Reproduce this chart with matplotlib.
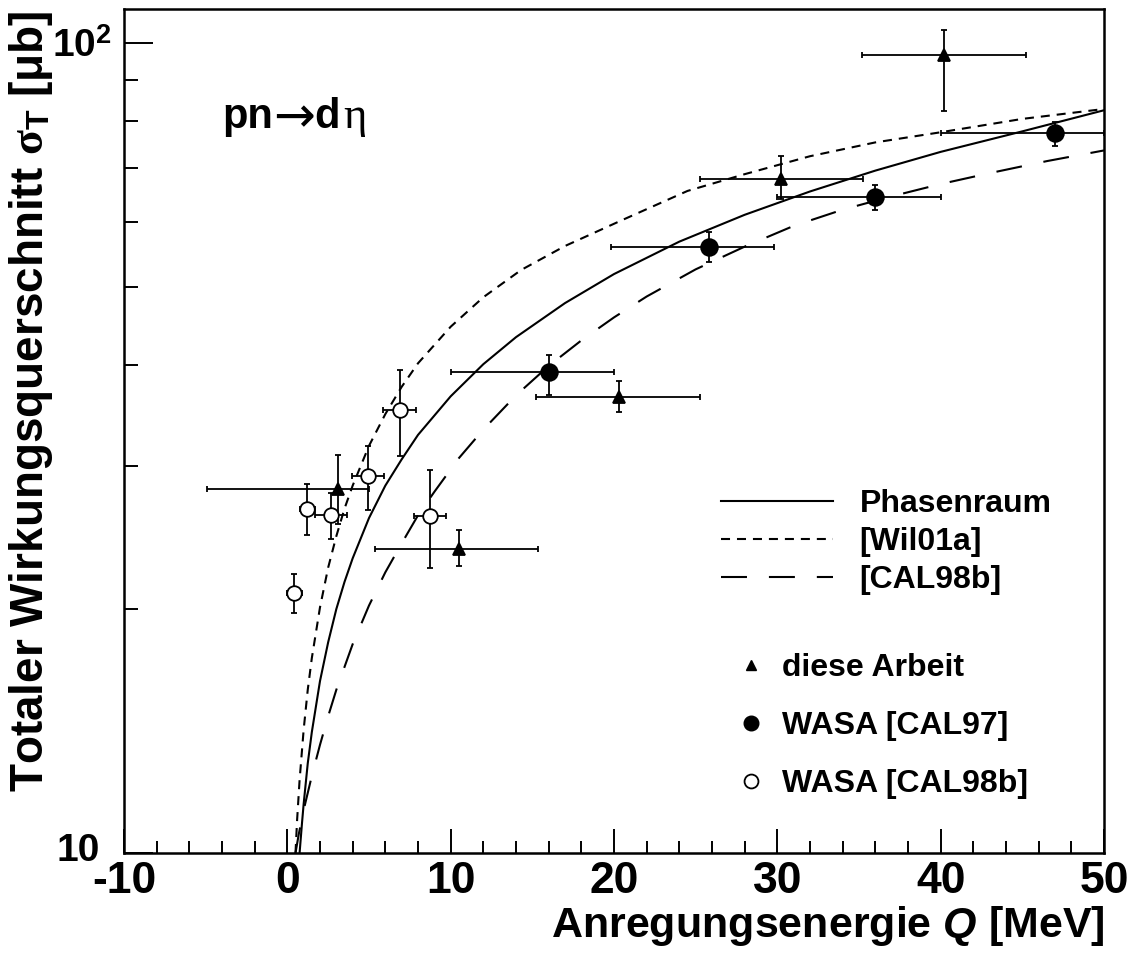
import numpy as np
import matplotlib
matplotlib.use("Agg")
import matplotlib.pyplot as plt
from matplotlib.lines import Line2D
from matplotlib.transforms import ScaledTranslation
from matplotlib.ticker import FixedLocator, FixedFormatter, NullFormatter

plt.rcParams.update({
    "font.family": ["Liberation Sans", "DejaVu Sans"],
    "font.weight": "bold",
    "mathtext.fontset": "custom",
    "mathtext.rm": "Liberation Sans:bold",
    "mathtext.bf": "Liberation Sans:bold",
    "mathtext.it": "Liberation Serif",
    "mathtext.sf": "Liberation Sans:bold:italic",
    "lines.scale_dashes": False,
    "axes.unicode_minus": False,
})

# ---- model curves: excitation energy Q [MeV] vs. total cross section [ub] ----
# phase space
ps_q = [0.75, 0.9, 1.0, 1.25, 1.5, 2.0, 2.5, 3.0, 3.5, 4.0, 5.0, 6.0, 7.0, 8.0,
        10.0, 12.0, 14.0, 17.0, 20.0, 24.0, 28.0, 32.0, 36.0, 40.0, 45.0, 50.0]
ps_sig = [10.0, 10.9, 11.5, 12.9, 14.1, 16.3, 18.2, 20.0, 21.6, 23.1, 25.9, 28.4,
          30.6, 32.8, 36.6, 40.1, 43.3, 47.7, 51.8, 56.8, 61.3, 65.5, 69.5, 73.3,
          77.7, 82.5]

# [Wil01a]
wil_q = [0.5, 0.6, 0.75, 1.0, 1.25, 1.5, 2.0, 2.5, 3.0, 3.5, 4.0, 5.0, 6.0, 7.0,
         8.0, 10.0, 12.0, 14.31, 17.0, 20.43, 24.5, 28.0, 32.0, 36.0, 40.0, 45.0, 50.0]
wil_sig = [10.0, 11.0, 12.3, 14.2, 15.9, 17.4, 20.1, 22.5, 24.6, 26.6, 28.4, 31.8,
           34.8, 37.6, 40.2, 44.6, 48.5, 52.4, 56.1, 60.3, 65.6, 68.8, 72.4, 75.3,
           77.5, 80.5, 82.8]

# [CAL98b]
cal_q = [0.5, 0.7, 1.0, 1.5, 2.0, 2.5, 3.0, 4.0, 5.0, 6.0, 7.0, 8.0, 9.0, 10.5,
         12.0, 14.0, 16.0, 18.0, 20.0, 22.0, 25.0, 28.0, 31.0, 34.0, 37.0, 40.0,
         43.0, 46.5, 50.0]
cal_sig = [10.0, 10.55, 11.3, 12.45, 13.6, 14.75, 15.9, 18.1, 20.2, 22.2, 24.1,
           26.1, 27.9, 30.7, 33.3, 36.7, 39.9, 42.9, 45.8, 48.6, 52.5, 56.0, 59.4,
           62.2, 64.6, 66.9, 69.0, 71.4, 73.6]

# ---- measurements ----
# diese Arbeit
arb_q = [3.1, 10.5, 20.3, 30.25, 40.2]
arb_q_lo = [8.0, 5.15, 5.05, 5.0, 5.0]
arb_q_hi = [1.9, 4.85, 4.95, 5.0, 5.0]
arb_sig = [28.1, 23.75, 36.5, 67.9, 96.4]
arb_sig_max = [31.0, 25.0, 38.2, 72.4, 103.5]
arb_sig_min = [25.5, 22.6, 35.0, 64.2, 82.3]

# WASA [CAL97]
c97_q = [16.0, 25.8, 36.0, 47.0]
c97_q_lo = [6.0, 6.0, 6.0, 7.0]
c97_q_hi = [4.0, 4.0, 4.0, 3.0]
c97_sig = [39.2, 55.9, 64.4, 77.4]
c97_sig_max = [41.2, 58.4, 66.8, 79.8]
c97_sig_min = [36.7, 53.6, 62.1, 74.6]

# WASA [CAL98b]
c98_q = [0.43, 1.22, 2.68, 4.94, 6.88, 8.74]
c98_q_err = [0.45, 0.45, 1.0, 1.0, 1.0, 1.0]
c98_sig = [20.96, 26.6, 26.1, 29.2, 35.2, 26.05]
c98_sig_max = [22.1, 28.5, 27.8, 31.8, 39.4, 29.7]
c98_sig_min = [19.8, 24.7, 24.4, 26.5, 30.9, 22.5]

x_major = [-10, 0, 10, 20, 30, 40, 50]
x_minor = list(range(-8, 50, 2))
y_major = [10, 100]
y_major_labels = ["10", r"$10^{2}$"]
y_minor = [20, 30, 40, 50, 60, 70, 80, 90]

W, H = 1141, 958
fig = plt.figure(figsize=(W / 100, H / 100), dpi=100)
ax = fig.add_axes([124 / W, 1 - 853 / H, 980 / W, 844 / H])
ax.set_yscale("log")
ax.set_xlim(-10, 50)
ax.set_ylim(10, 110)

LW = 1.5
ph_line, = ax.plot(ps_q, ps_sig, color="k", lw=LW, label="Phasenraum")
wi_line, = ax.plot(wil_q, wil_sig, color="k", lw=LW, dashes=(6.5, 5.0), label="[Wil01a]")
ca_line, = ax.plot(cal_q, cal_sig, color="k", lw=LW, dashes=(18.7, 15.8), label="[CAL98b]")


def yerr_of(sig, smin, smax):
    s = np.asarray(sig)
    return [s - np.asarray(smin), np.asarray(smax) - s]


eb = dict(ecolor="k", elinewidth=1.3, capsize=2.5, capthick=1.3, mec="k", mew=1.3)
ax.errorbar(arb_q, arb_sig, xerr=[arb_q_lo, arb_q_hi],
            yerr=yerr_of(arb_sig, arb_sig_min, arb_sig_max),
            fmt="^", ms=9, mfc="k", zorder=3, **eb)
ax.errorbar(c97_q, c97_sig, xerr=[c97_q_lo, c97_q_hi],
            yerr=yerr_of(c97_sig, c97_sig_min, c97_sig_max),
            fmt="o", ms=12, mfc="k", zorder=3, **eb)
ax.errorbar(c98_q, c98_sig, xerr=c98_q_err,
            yerr=yerr_of(c98_sig, c98_sig_min, c98_sig_max),
            fmt="o", ms=10.5, mfc="white", zorder=4, **eb)

# axes, ticks
for sp in ax.spines.values():
    sp.set_linewidth(1.8)
ax.xaxis.set_major_locator(FixedLocator(x_major))
ax.xaxis.set_minor_locator(FixedLocator(x_minor))
ax.yaxis.set_major_locator(FixedLocator(y_major))
ax.yaxis.set_major_formatter(FixedFormatter(y_major_labels))
ax.yaxis.set_minor_locator(FixedLocator(y_minor))
ax.yaxis.set_minor_formatter(NullFormatter())
ax.tick_params(axis="x", which="major", direction="in", length=17.3, width=1.4,
               top=False, labelsize=32, pad=6)
ax.tick_params(axis="x", which="minor", direction="in", length=8.6, width=1.4, top=False)
ax.tick_params(axis="y", which="major", direction="in", length=21, width=1.4,
               right=False, labelsize=28, pad=8.6)
ax.tick_params(axis="y", which="minor", direction="in", length=10, width=1.4, right=False)

# the plain "10" sits where the base of "10^2" sits, slightly above its tick
fig.canvas.draw()
shift_10 = ScaledTranslation(-12 / 100, 6 / 100, fig.dpi_scale_trans)
ylabs = ax.yaxis.get_majorticklabels()
ylabs[0].set_transform(ylabs[0].get_transform() + shift_10)

fig.text(1105 / W, 1 - 937 / H, r"Anregungsenergie $\mathsf{Q}$ [MeV]",
         ha="right", va="baseline", fontsize=31)
fig.text(43 / W, 1 - 10 / H, r"Totaler Wirkungsquerschnitt $\sigma_\mathbf{T}$ [μb]",
         ha="right", va="baseline", rotation=90, rotation_mode="anchor", fontsize=33)

# reaction label  pn -> d eta, set piece by piece on a common baseline
desc = 6.3  # descent of the bold sans at 30 pt, in points
t_pn = ax.text(0.1, 0.859, "pn", transform=ax.transAxes, fontsize=30,
               va="baseline", ha="left")
t_arrow = ax.annotate("→", xy=(1, 0), xycoords=(t_pn, t_pn), xytext=(0, desc - 3.0),
                      textcoords="offset points", va="baseline", ha="left",
                      fontsize=36, family="DejaVu Sans", weight="normal")
t_d = ax.annotate("d", xy=(1, 0), xycoords=(t_arrow, t_pn), xytext=(0, desc),
                  textcoords="offset points", va="baseline", ha="left", fontsize=30)
ax.annotate("η", xy=(1, 0), xycoords=(t_d, t_pn), xytext=(2, desc),
            textcoords="offset points", va="baseline", ha="left",
            fontsize=32, family="Liberation Serif", weight="normal")

# legends
leg1 = ax.legend(handles=[ph_line, wi_line, ca_line], loc="upper left",
                 bbox_to_anchor=(721 / W, 1 - 489 / H), bbox_transform=fig.transFigure,
                 frameon=False, fontsize=23, borderpad=0, borderaxespad=0,
                 handlelength=3.5, handletextpad=0.84, labelspacing=0.25)
ax.add_artist(leg1)
mk_handles = [
    Line2D([], [], ls="none", marker="^", ms=7.5, mfc="k", mec="k"),
    Line2D([], [], ls="none", marker="o", ms=10.5, mfc="k", mec="k"),
    Line2D([], [], ls="none", marker="o", ms=10, mfc="white", mec="k", mew=1.3),
]
ax.legend(handles=mk_handles, labels=["diese Arbeit", "WASA [CAL97]", "WASA [CAL98b]"],
          loc="upper left", bbox_to_anchor=(735 / W, 1 - 653 / H),
          bbox_transform=fig.transFigure, frameon=False, fontsize=23, borderpad=0,
          borderaxespad=0, handlelength=1.0, handletextpad=0.47, labelspacing=0.88,
          numpoints=1)

fig.savefig("out.png", dpi=100)
